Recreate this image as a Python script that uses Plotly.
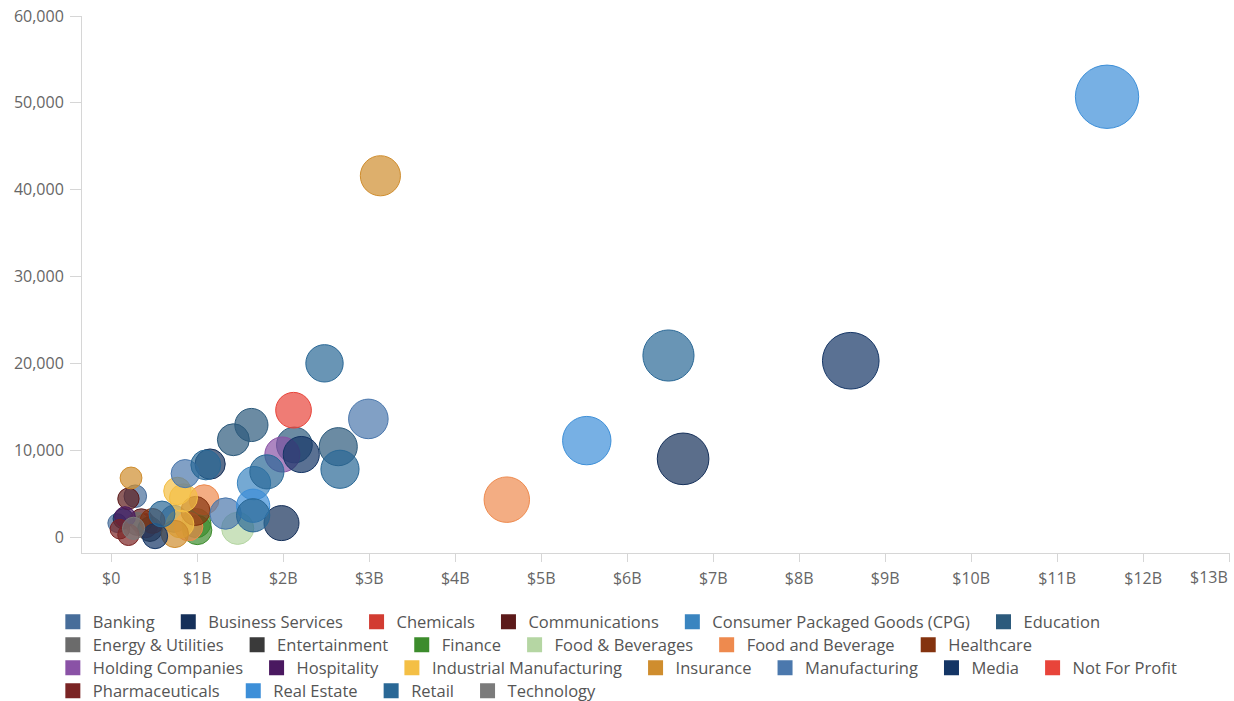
import numpy as np
import plotly.graph_objects as go

# Industry palette (legend order)
industries = [
    "Banking", "Business Services", "Chemicals", "Communications",
    "Consumer Packaged Goods (CPG)", "Education",
    "Energy & Utilities", "Entertainment", "Finance", "Food & Beverages",
    "Food and Beverage", "Healthcare",
    "Holding Companies", "Hospitality", "Industrial Manufacturing", "Insurance",
    "Manufacturing", "Media", "Not For Profit",
    "Pharmaceuticals", "Real Estate", "Retail", "Technology",
]
industry_colors = [
    "#476d9a", "#15305a", "#d23c32", "#5c1a1a",
    "#3a85c0", "#2c5a7c",
    "#6b6b6b", "#3a3a3a", "#3c8c2c", "#b5d6a3",
    "#ee8a4e", "#84330f",
    "#8a52a6", "#4a1860", "#f4bf45", "#cf8d2e",
    "#4b78ad", "#143565", "#e8443a",
    "#7a2424", "#3d8fd8", "#2a6896", "#7b7b7b",
]
legend_rows = [
    ["Banking", "Business Services", "Chemicals", "Communications",
     "Consumer Packaged Goods (CPG)", "Education"],
    ["Energy & Utilities", "Entertainment", "Finance", "Food & Beverages",
     "Food and Beverage", "Healthcare"],
    ["Holding Companies", "Hospitality", "Industrial Manufacturing", "Insurance",
     "Manufacturing", "Media", "Not For Profit"],
    ["Pharmaceuticals", "Real Estate", "Retail", "Technology"],
]

# One entry per company: industry, revenue (billions USD), employees
company_industry = [
    "Real Estate", "Insurance", "Media", "Business Services", "Retail",
    "Real Estate", "Food and Beverage", "Retail", "Not For Profit", "Manufacturing",
    "Education", "Education", "Education", "Retail", "Education",
    "Media", "Holding Companies", "Manufacturing", "Retail", "Business Services",
    "Consumer Packaged Goods (CPG)", "Retail", "Real Estate", "Retail", "Business Services",
    "Manufacturing", "Food & Beverages", "Food and Beverage", "Industrial Manufacturing",
    "Industrial Manufacturing", "Finance", "Finance", "Insurance", "Banking",
    "Communications", "Banking", "Business Services", "Hospitality", "Technology",
    "Pharmaceuticals", "Healthcare", "Retail", "Banking", "Media", "Insurance",
    "Industrial Manufacturing", "Healthcare", "Food and Beverage", "Entertainment",
    "Energy & Utilities", "Chemicals", "Communications", "Pharmaceuticals",
]
revenue_b = [
    11.58, 3.13, 8.60, 6.65, 6.48,
    5.53, 4.60, 2.48, 2.12, 2.99,
    1.63, 1.42, 2.64, 2.66, 2.13,
    2.21, 1.99, 0.86, 1.10, 1.15,
    1.66, 1.81, 1.65, 1.65, 1.98,
    1.33, 1.47, 1.08, 0.77,
    0.84, 1.00, 0.99, 0.23, 0.28,
    0.20, 0.07, 0.14, 0.16, 0.26,
    0.20, 0.48, 0.59, 0.73, 0.51, 0.74,
    0.80, 0.98, 0.90, 0.45,
    0.30, 0.40, 0.35, 0.10,
]
employees = [
    50700, 41600, 20300, 9000, 20900,
    11100, 4300, 20000, 14600, 13600,
    12900, 11200, 10400, 7800, 10600,
    9500, 9500, 7300, 8300, 8400,
    6200, 7500, 3600, 2500, 1600,
    2700, 1000, 4300, 5300,
    4500, 800, 1600, 6800, 4700,
    4400, 1600, 2100, 2300, 1000,
    250, 1850, 2650, 2100, 100, 350,
    1500, 3000, 1200, 900,
    1500, 1300, 1900, 900,
]

MIN_D, D_SCALE = 15.0, 14.2  # bubble diameter from revenue
FILL_ALPHA = 0.7


def bubble_diameter(rev):
    return MIN_D + D_SCALE * np.sqrt(np.asarray(rev))


def rgba(hex_color, alpha):
    h = hex_color.lstrip("#")
    r, g, b = (int(h[i:i + 2], 16) for i in (0, 2, 4))
    return f"rgba({r},{g},{b},{alpha})"


FONT = "Open Sans"
fig = go.Figure()

color_of = dict(zip(industries, industry_colors))
row_of = {name: i for i, row in enumerate(legend_rows) for name in row}
legend_ids = ["legend", "legend2", "legend3", "legend4"]

ind_arr = np.array(company_industry)
rev_arr = np.array(revenue_b)
emp_arr = np.array(employees)

for name in industries:
    col = color_of[name]
    mask = ind_arr == name
    rev = rev_arr[mask]
    fig.add_trace(go.Scatter(
        x=rev * 1e9, y=emp_arr[mask], mode="markers", name=name,
        legendgroup=name, showlegend=False,
        marker=dict(size=bubble_diameter(rev), sizemode="diameter", opacity=1,
                    color=rgba(col, FILL_ALPHA), line=dict(color=col, width=1)),
        hovertemplate=name + "<br>$%{x:.3s}<br>%{y:,} employees<extra></extra>",
    ))

# Square legend swatches, one legend per row
for name in industries:
    fig.add_trace(go.Scatter(
        x=[None], y=[None], mode="markers", name=name + "\u00a0\u00a0",
        legendgroup=name, legend=legend_ids[row_of[name]],
        marker=dict(symbol="square", size=15, color=color_of[name]),
    ))

tick_vals = [i * 1e9 for i in range(14)]
tick_text = ["$0"] + [f"${i}B" for i in range(1, 13)] + [""]

axis_color = "#d6d6d6"
fig.update_layout(
    width=1234, height=701,
    margin=dict(l=82, r=4, t=16, b=148, autoexpand=False),
    paper_bgcolor="white", plot_bgcolor="white",
    font=dict(family=FONT, size=16, color="#666666"),
    xaxis=dict(range=[-0.34e9, 13.01e9], tickvals=tick_vals, ticktext=tick_text,
               showgrid=False, zeroline=False, showline=True, linecolor=axis_color,
               ticks="outside", ticklen=8, tickcolor=axis_color, ticklabelstandoff=3,
               tickfont=dict(size=16, color="#666666")),
    yaxis=dict(range=[-1843, 60000], tickvals=[0, 10000, 20000, 30000, 40000, 50000, 60000],
               tickformat=",", showgrid=False, zeroline=False, showline=True,
               linecolor=axis_color, ticks="outside", ticklen=11, tickcolor=axis_color,
               ticklabelstandoff=3, tickfont=dict(size=16, color="#666666")),
    showlegend=True,
)

row_y = [-0.1285, -0.1713, -0.2142, -0.2570]
for lid, y in zip(legend_ids, row_y):
    fig.update_layout({lid: dict(
        orientation="h", x=-0.0254, xanchor="left", y=y, yanchor="middle",
        font=dict(family=FONT, size=16.5, color="#555555"),
        bgcolor="rgba(0,0,0,0)", traceorder="normal", itemclick="toggle",
    )})

fig.add_annotation(text="$13B", x=1, xref="paper", xanchor="right",
                   y=-0.0447, yref="paper", yanchor="middle", showarrow=False,
                   font=dict(family=FONT, size=16, color="#666666"))

fig.write_html("out.html")
